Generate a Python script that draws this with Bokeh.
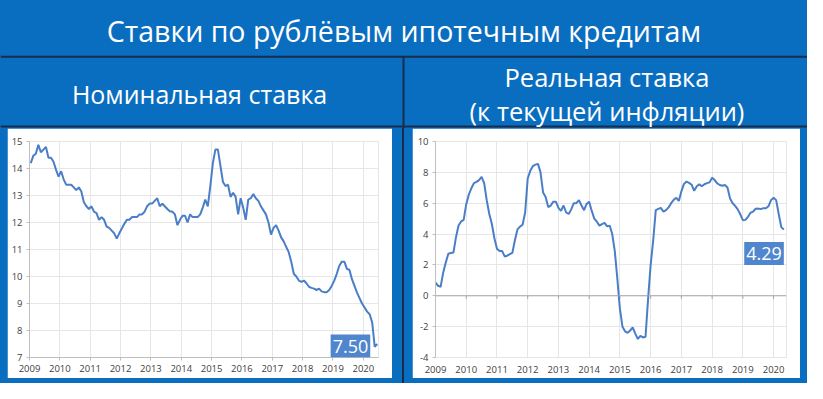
from bokeh.plotting import figure
from bokeh.layouts import column, row
from bokeh.models import Range1d, Span, Label, FixedTicker, Div
from bokeh.embed import file_html
from bokeh.resources import INLINE
from bokeh.core.properties import value

# ---------------- data ----------------
TITLE = "Ставки по рублёвым ипотечным кредитам"
SUB_LEFT = "Номинальная ставка"
SUB_RIGHT_1 = "Реальная ставка"
SUB_RIGHT_2 = "(к текущей инфляции)"

years = [2009, 2010, 2011, 2012, 2013, 2014, 2015, 2016, 2017, 2018, 2019, 2020]
year_labels = ["2009", "2010", "2011", "2012", "2013", "2014", "2015", "2016", "2017", "2018", "2019", "2020"]

nom_ticks = [7, 8, 9, 10, 11, 12, 13, 14, 15]
nom_tick_labels = ["7", "8", "9", "10", "11", "12", "13", "14", "15"]
real_ticks = [-4, -2, 0, 2, 4, 6, 8, 10]
real_tick_labels = ["-4", "-2", "0", "2", "4", "6", "8", "10"]

# monthly nominal rate, Jan 2009 - Jun 2020
nominal = [
    14.2, 14.47, 14.55, 14.88, 14.6, 14.7, 14.8, 14.4, 14.4, 14.25, 13.95, 13.7,
    13.9, 13.6, 13.4, 13.4, 13.4, 13.3, 13.2, 13.3, 13.15, 12.75, 12.6, 12.5,
    12.6, 12.4, 12.35, 12.1, 12.2, 12.1, 11.85, 11.8, 11.7, 11.6, 11.4, 11.6,
    11.78, 11.95, 12.1, 12.1, 12.2, 12.2, 12.2, 12.3, 12.3, 12.4, 12.6, 12.7,
    12.7, 12.8, 12.9, 12.6, 12.7, 12.6, 12.5, 12.42, 12.4, 12.3, 11.9, 12.1,
    12.25, 12.25, 12.0, 12.3, 12.2, 12.2, 12.2, 12.3, 12.55, 12.85, 12.6, 13.35,
    14.2, 14.7, 14.7, 14.1, 13.5, 13.35, 13.4, 12.95, 13.1, 12.95, 12.3, 12.9,
    12.55, 12.1, 12.85, 12.9, 13.05, 12.9, 12.8, 12.6, 12.45, 12.3, 12.0, 11.55,
    11.8, 11.9, 11.7, 11.45, 11.3, 11.1, 10.9, 10.55, 10.1, 10.0, 9.85, 9.8,
    9.85, 9.75, 9.62, 9.58, 9.55, 9.5, 9.55, 9.45, 9.42, 9.42, 9.5, 9.65,
    9.85, 10.1, 10.4, 10.55, 10.55, 10.28, 10.25, 9.9, 9.65, 9.4, 9.2, 9.0,
    8.85, 8.7, 8.6, 8.3, 7.4, 7.5,
]

# monthly real rate, Jan 2009 - May 2020
real = [
    0.85, 0.65, 0.58, 1.5, 2.15, 2.72, 2.77, 2.8, 3.8, 4.55, 4.82, 4.92,
    5.94, 6.55, 6.97, 7.3, 7.38, 7.5, 7.7, 7.3, 6.2, 5.3, 4.65, 3.73,
    3.05, 2.9, 2.9, 2.55, 2.6, 2.7, 2.78, 3.6, 4.3, 4.48, 4.6, 5.4,
    7.6, 8.1, 8.4, 8.5, 8.55, 8.0, 6.7, 6.4, 5.75, 5.85, 6.1, 6.1,
    5.7, 5.5, 5.85, 5.4, 5.3, 5.6, 6.0, 6.0, 6.2, 5.85, 5.55, 5.95,
    6.1, 5.5, 5.0, 4.8, 4.55, 4.65, 4.73, 4.5, 4.55, 4.0, 2.9, 1.1,
    -0.85, -2.0, -2.3, -2.4, -2.25, -2.05, -2.45, -2.8, -2.6, -2.7, -2.65, -0.2,
    2.0, 3.6, 5.55, 5.63, 5.7, 5.45, 5.55, 5.73, 6.0, 6.22, 6.35, 6.15,
    6.77, 7.25, 7.4, 7.32, 7.2, 6.8, 7.1, 7.22, 7.1, 7.23, 7.3, 7.35,
    7.65, 7.5, 7.28, 7.18, 7.13, 7.18, 7.02, 6.3, 6.0, 5.83, 5.6, 5.28,
    4.9, 4.92, 5.12, 5.38, 5.45, 5.64, 5.65, 5.62, 5.68, 5.67, 5.8, 6.2,
    6.35, 6.2, 5.3, 4.45, 4.29,
]

nom_x = [2009 + (i + 0.5) / 12 for i in range(len(nominal))]
real_x = [2009 + i / 12 for i in range(len(real))]

# ---------------- styles ----------------
BLUE = "#0A6EC0"
DARK = "#1B2B4A"
LINE = "#4A7EC7"
BOX = "#4F86CD"
GRID = "#E6E6E6"
AXIS = "#BFBFBF"
TICKTXT = "#404040"
FONT = "Open Sans"


def style_chart(p, yticks, ylabels):
    p.background_fill_color = "white"
    p.border_fill_color = "white"
    p.outline_line_color = GRID
    p.xaxis.ticker = FixedTicker(ticks=years)
    p.xaxis.major_label_overrides = {y: l for y, l in zip(years, year_labels)}
    p.yaxis.ticker = FixedTicker(ticks=yticks)
    p.yaxis.major_label_overrides = {y: l for y, l in zip(yticks, ylabels)}
    for ax in (p.xaxis[0], p.yaxis[0]):
        ax.axis_line_color = AXIS
        ax.major_tick_line_color = AXIS
        ax.major_tick_out = 3
        ax.major_tick_in = 0
        ax.minor_tick_line_color = None
        ax.major_label_text_font = FONT
        ax.major_label_text_font_size = "9.5px"
        ax.major_label_text_color = TICKTXT
        ax.major_label_standoff = 4
    p.xgrid.grid_line_color = GRID
    p.ygrid.grid_line_color = GRID


# ---------------- header ----------------
header = figure(width=807, height=128, x_range=Range1d(0, 823), y_range=Range1d(133, 0),
                x_axis_type=None, y_axis_type=None, output_backend="svg",
                toolbar_location=None, min_border=0)
header.background_fill_color = BLUE
header.border_fill_color = BLUE
header.outline_line_color = None
header.segment(x0=[0, 411, 0], y0=[58.5, 58.5, 131], x1=[823, 411, 823], y1=[58.5, 133, 131],
               line_color=DARK, line_width=2)
header.text(x=[411.5], y=[32], text=[TITLE], text_align="center", text_baseline="middle",
            text_color="white", text_font=value(FONT), text_font_size="28.5px")
header.text(x=[203], y=[97], text=[SUB_LEFT], text_align="center", text_baseline="middle",
            text_color="white", text_font=value(FONT), text_font_size="25px")
header.text(x=[618.5, 618.5], y=[79, 115], text=[SUB_RIGHT_1, SUB_RIGHT_2],
            text_align="center", text_baseline="middle",
            text_color="white", text_font=value(FONT), text_font_size="25.5px")

# ---------------- left chart ----------------
left = figure(width=385, height=250, x_range=Range1d(2009, 2020.5), y_range=Range1d(7, 15),
              output_backend="svg", toolbar_location=None,
              min_border_left=22, min_border_right=14, min_border_top=13, min_border_bottom=20,
              margin=(0, 0, 5, 7))
style_chart(left, nom_ticks, nom_tick_labels)
left.line(nom_x, nominal, line_color=LINE, line_width=2)
left.add_layout(Label(x=nom_x[-1], y=nominal[-1], text=f"{nominal[-1]:.2f}",
                      x_offset=-7, y_offset=-2, text_align="right", text_baseline="middle",
                      text_color="white", text_font=FONT, text_font_size="18px",
                      background_fill_color=BOX, padding=(2, 5), level="overlay"))

# ---------------- gap with divider ----------------
divider = Div(text="", width=2, height=255, margin=(0, 8, 0, 10),
              styles={"background-color": DARK})

# ---------------- right chart ----------------
right = figure(width=388, height=250, x_range=Range1d(2009, 2020.42), y_range=Range1d(-4, 10),
               output_backend="svg", toolbar_location=None,
               min_border_left=23, min_border_right=14, min_border_top=13, min_border_bottom=21,
               margin=(0, 0, 5, 0))
style_chart(right, real_ticks, real_tick_labels)
right.xaxis.axis_line_color = None
right.xaxis.major_tick_line_color = None
right.xaxis.major_tick_out = 0
right.xaxis.major_label_standoff = 8
right.add_layout(Span(location=0, dimension="width", line_color="#A6A6A6", line_width=1))
right.segment(x0=years, y0=[0] * len(years), x1=years, y1=[-0.2] * len(years),
              line_color="#A6A6A6", line_width=1)
right.line(real_x, real, line_color=LINE, line_width=2)
right.add_layout(Label(x=real_x[-1], y=real[-1], text=f"{real[-1]:.2f}",
                       x_offset=0, y_offset=-24, text_align="right", text_baseline="middle",
                       text_color="white", text_font=FONT, text_font_size="18px",
                       background_fill_color=BOX, padding=(2, 5), level="overlay"))

layout = column(header, row(left, divider, right), styles={"background-color": BLUE})

open("out.html", "w").write(file_html(layout, INLINE))
